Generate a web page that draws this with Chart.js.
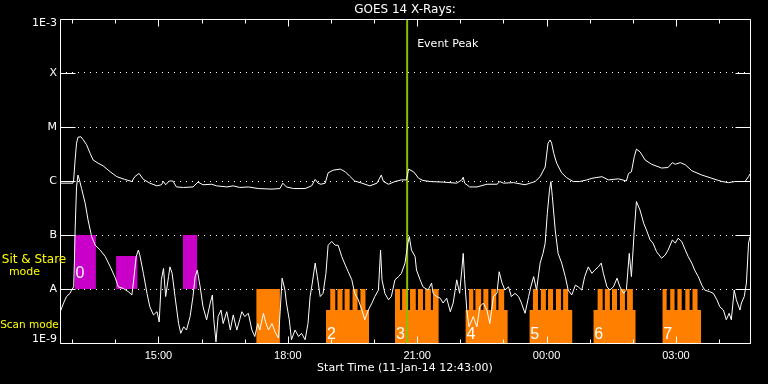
<!DOCTYPE html>
<html><head><meta charset="utf-8">
<script src="https://cdn.jsdelivr.net/npm/chart.js@4.4.1/dist/chart.umd.min.js"></script>
<style>html,body{margin:0;padding:0;background:#000;overflow:hidden}canvas{display:block}</style>
</head><body>
<canvas id="c" width="768" height="384"></canvas>
<script>
// Time: minutes after start 11-Jan-14 12:43:00 UT.  Flux: log10(W/m^2)
const longTime = [0,18,19,21,23,25,29,32,37,42,46,53,60,70,79,90,100,104,110,116,125,135,141,144,147,152,157,162,172,185,192,199,211,218,232,241,250,262,276,295,306,310,315,325,341,350,355,359,363,369,373,380,390,397,403,410,420,431,441,447,450,457,466,475,482,485,492,499,505,515,533,552,559,561,563,570,580,594,608,612,617,631,647,654,661,668,675,679,682,684,687,691,698,705,714,723,733,740,754,763,777,788,791,795,799,802,807,814,823,837,846,852,856,863,870,879,893,907,921,930,939,953,958,960];
const longLog = [-6.04,-6.04,-5.98,-5.61,-5.30,-5.19,-5.18,-5.23,-5.33,-5.49,-5.61,-5.67,-5.72,-5.83,-5.92,-5.97,-6.01,-5.92,-5.86,-5.97,-6.04,-6.09,-6.07,-6.01,-6.07,-6.00,-6.00,-6.11,-6.12,-6.11,-6.02,-6.07,-6.06,-6.09,-6.11,-6.09,-6.12,-6.11,-6.14,-6.15,-6.14,-6.04,-6.11,-6.14,-6.14,-6.09,-5.97,-6.04,-6.06,-6.04,-5.85,-5.80,-5.78,-5.83,-5.91,-6.00,-6.04,-6.09,-6.04,-5.89,-6.01,-6.06,-6.01,-5.98,-5.98,-5.78,-5.83,-5.95,-5.99,-6.01,-6.02,-6.04,-5.98,-5.93,-6.04,-6.11,-6.11,-6.06,-6.06,-6.01,-6.04,-6.03,-6.07,-6.04,-6.01,-5.92,-5.74,-5.30,-5.24,-5.30,-5.49,-5.67,-5.85,-5.94,-6.01,-6.01,-5.98,-5.95,-5.92,-5.98,-5.96,-6.00,-5.86,-5.83,-5.55,-5.41,-5.46,-5.61,-5.69,-5.76,-5.75,-5.66,-5.69,-5.66,-5.70,-5.81,-5.89,-5.95,-6.01,-6.03,-6.01,-6.01,-5.92,-5.87];

const shortTime = [0,5,9,14,16,19,20,21,23,25,27,30,35,39,44,49,56,63,70,77,81,88,95,100,102,106,109,111,116,121,125,130,135,138,141,144,147,151,153,156,160,165,168,172,176,181,185,188,191,195,199,204,209,212,214,217,220,224,227,232,237,241,246,250,253,257,262,267,271,275,278,283,286,290,295,299,304,307,309,313,315,319,322,327,332,336,341,345,348,351,355,358,362,366,370,373,378,383,387,392,397,401,406,410,415,420,424,429,434,438,443,446,448,452,457,461,466,471,475,480,484,486,489,494,496,501,505,512,517,519,524,529,533,538,543,547,552,556,559,561,563,566,569,575,580,584,589,594,598,603,608,611,615,619,624,628,633,638,642,647,652,655,659,663,668,672,675,678,681,683,685,689,693,698,703,707,712,717,721,726,730,735,740,744,749,753,756,761,765,770,775,779,784,788,792,795,799,802,807,812,816,821,825,830,837,842,846,852,856,860,865,870,874,879,883,888,893,897,904,909,914,918,923,927,931,934,938,941,946,948,952,955,958,960];
const shortLog = [-8.43,-8.26,-8.14,-8.08,-8.02,-7.96,-7.52,-6.91,-6.11,-5.89,-5.98,-6.14,-6.41,-6.72,-7.03,-7.19,-7.28,-7.40,-7.59,-7.80,-7.96,-7.99,-8.05,-8.11,-7.89,-7.40,-7.28,-7.37,-7.71,-8.08,-8.33,-8.48,-8.42,-8.61,-7.83,-7.62,-8.14,-7.77,-7.59,-7.71,-8.14,-8.64,-8.82,-8.70,-8.76,-8.51,-8.14,-7.77,-7.65,-7.96,-8.33,-8.57,-8.26,-8.11,-8.57,-8.98,-8.51,-8.39,-8.64,-8.42,-8.76,-8.48,-8.76,-8.57,-8.42,-8.51,-8.45,-8.76,-8.88,-8.64,-8.76,-8.45,-8.61,-8.76,-8.64,-8.79,-8.91,-8.26,-7.80,-8.02,-8.26,-8.57,-8.94,-8.76,-8.88,-8.82,-8.94,-8.64,-8.14,-7.89,-7.52,-7.77,-8.14,-8.08,-7.71,-7.19,-7.12,-7.19,-7.19,-7.40,-7.56,-7.68,-7.83,-8.08,-8.20,-8.39,-8.57,-8.39,-8.26,-8.14,-8.02,-7.28,-7.83,-8.08,-8.20,-8.14,-7.83,-7.77,-7.71,-7.52,-7.15,-7.03,-7.28,-7.40,-7.65,-7.83,-7.96,-8.02,-7.89,-8.08,-8.14,-8.17,-8.26,-8.17,-8.42,-8.26,-7.83,-8.08,-7.65,-7.34,-7.83,-8.39,-8.70,-8.51,-8.70,-8.33,-8.26,-8.39,-8.64,-8.14,-8.08,-7.68,-7.89,-8.02,-7.96,-8.14,-8.08,-8.14,-8.26,-8.45,-8.14,-7.96,-7.77,-8.02,-7.52,-7.34,-7.15,-6.60,-6.17,-6.01,-6.29,-6.91,-7.34,-7.52,-7.77,-8.02,-8.11,-7.93,-7.96,-8.02,-7.77,-7.59,-7.71,-7.65,-7.59,-7.52,-7.71,-7.96,-8.02,-7.96,-7.80,-7.96,-8.08,-8.02,-7.34,-7.77,-6.91,-6.38,-6.54,-6.78,-6.91,-7.09,-7.15,-7.31,-7.43,-7.37,-7.28,-7.09,-7.15,-7.06,-7.12,-7.28,-7.40,-7.52,-7.65,-7.77,-7.93,-8.02,-8.05,-8.08,-8.20,-8.33,-8.39,-8.57,-8.45,-8.57,-8.02,-8.20,-8.39,-8.26,-8.14,-7.89,-7.15,-7.03];

// axis ticks
const yTickLog = [-9,-8,-7,-6,-5,-4,-3];
const yTickLabels = ['1E-9','A','B','C','M','X','1E-3'];
const xHourTicks = [17,77,137,197,257,317,377,437,497,557,617,677,737,797,857,917];
const xMajorTicks = [137,317,497,677,857];
const xMajorLabels = ['15:00','18:00','21:00','00:00','03:00'];

// event
const eventPeakTime = 483;

// Sit & Stare (magenta) intervals
const sitStart = [20,78,171];
const sitEnd = [50,108,191];
const sitTopLog = [-7,-7.39,-7];
const sitBottomLog = -8;
const sitLabels = ['0','',''];

// Scan mode (orange)
const fullScanStart = [273];
const fullScanEnd = [306];
const fullScanTopLog = -8;
const scanStart = [370,466,564,653,742,838];
const scanEnd = [430,527,623,713,801,892];
const scanLabels = ['2','3','4','5','6','7'];
const scanTeethStart = [[376,386,396,407,418],[466,476,487,498,508,519],[569,578,589,600,610],[658,669,679,690,700],[748,758,768,779,789],[838,849,859,870,880]];
const scanTeethEnd = [[383,393,403,414,425],[473,484,495,505,516,527],[575,586,596,607,618],[665,676,686,697,707],[755,765,775,786,797],[844,855,865,876,887]];
const scanBaseLog = -8.39;
const scanTeethLog = -8;

const WHITE = '#ffffff', MAGENTA = '#c800c8', ORANGE = '#ff8000', GREEN = '#88c000', YELLOW = '#ffff00';

const toPts = (ts, ls) => ts.map((t, i) => ({x: t, y: Math.pow(10, ls[i])}));
const datasets = [];
datasets.push({label: 'Long', data: toPts(longTime, longLog), borderColor: WHITE, borderWidth: 1, fill: false, order: 0});
datasets.push({label: 'Short', data: toPts(shortTime, shortLog), borderColor: WHITE, borderWidth: 1, fill: false, order: 0});
datasets.push({label: 'Event Peak', data: [{x: eventPeakTime, y: 1e-9}, {x: eventPeakTime, y: 1e-3}], borderColor: GREEN, borderWidth: 2, fill: false, order: 1});
sitStart.forEach((s, i) => {
  const top = Math.pow(10, sitTopLog[i]);
  datasets.push({label: 'Sit & Stare', data: [{x: s, y: top}, {x: sitEnd[i], y: top}],
    fill: {value: Math.pow(10, sitBottomLog)}, backgroundColor: MAGENTA, borderColor: 'rgba(0,0,0,0)', borderWidth: 0, order: 5});
});
fullScanStart.forEach((s, i) => {
  const top = Math.pow(10, fullScanTopLog);
  datasets.push({label: 'Scan', data: [{x: s, y: top}, {x: fullScanEnd[i], y: top}],
    fill: 'start', backgroundColor: ORANGE, borderColor: 'rgba(0,0,0,0)', borderWidth: 0, order: 5});
});
scanStart.forEach((s, i) => {
  const lb = Math.pow(10, scanBaseLog), la = Math.pow(10, scanTeethLog);
  const pts = [{x: s, y: lb}];
  scanTeethStart[i].forEach((a, k) => { pts.push({x: a, y: la}); pts.push({x: scanTeethEnd[i][k], y: lb}); });
  pts.push({x: scanEnd[i], y: lb});
  datasets.push({label: 'Scan', data: pts, stepped: true, fill: 'start', backgroundColor: ORANGE,
    borderColor: 'rgba(0,0,0,0)', borderWidth: 0, order: 5});
});

const deco = {
  id: 'deco',
  beforeDraw(chart) {
    const ctx = chart.ctx;
    ctx.save(); ctx.fillStyle = '#000'; ctx.fillRect(0, 0, chart.width, chart.height); ctx.restore();
  },
  afterDraw(chart) {
    const {ctx, chartArea: a, scales: {x, y}} = chart;
    ctx.save();
    ctx.strokeStyle = WHITE; ctx.lineWidth = 1;
    const L = Math.round(a.left) + 0.5, R = Math.round(a.right) + 0.5, T = Math.round(a.top) + 0.5, B = Math.round(a.bottom) + 0.5;
    ctx.beginPath();
    ctx.moveTo(L, T); ctx.lineTo(R, T); ctx.lineTo(R, B); ctx.lineTo(L, B); ctx.closePath();
    xHourTicks.forEach(t => {
      const px = Math.round(x.getPixelForValue(t)) + 0.5;
      const len = xMajorTicks.includes(t) ? 7 : 4;
      ctx.moveTo(px, B); ctx.lineTo(px, B - len);
      ctx.moveTo(px, T); ctx.lineTo(px, T + len);
    });
    yTickLog.forEach(v => {
      const py = Math.round(y.getPixelForValue(Math.pow(10, v))) + 0.5;
      ctx.moveTo(L, py); ctx.lineTo(L + 15, py);
      ctx.moveTo(R - 15, py); ctx.lineTo(R, py);
    });
    ctx.stroke();

    ctx.fillStyle = WHITE;
    ctx.font = '11px "DejaVu Sans"';
    ctx.textBaseline = 'alphabetic';
    ctx.textAlign = 'left';
    ctx.fillText('Event Peak', x.getPixelForValue(eventPeakTime) + 10, a.top + 28);

    ctx.font = '16px "Liberation Sans"';
    sitStart.forEach((s, i) => {
      if (sitLabels[i]) ctx.fillText(sitLabels[i], x.getPixelForValue(s) + 1, y.getPixelForValue(Math.pow(10, sitBottomLog)) - 11);
    });
    scanStart.forEach((s, i) => {
      ctx.fillText(scanLabels[i], x.getPixelForValue(s) + 1, a.bottom - 4);
    });

    ctx.fillStyle = YELLOW;
    ctx.textAlign = 'center';
    ctx.font = '12px "DejaVu Sans"';
    ctx.fillText('Sit & Stare', 34, 263);
    ctx.font = '11px "DejaVu Sans"';
    ctx.fillText('mode', 24.5, 275);
    ctx.font = '10.5px "DejaVu Sans"';
    ctx.fillText('Scan mode', 29.5, 328);
    ctx.restore();
  }
};

new Chart(document.getElementById('c'), {
  type: 'line',
  data: {datasets},
  options: {
    responsive: false, animation: false, events: [], devicePixelRatio: 1,
    layout: {padding: {left: 0, right: 18, top: 0, bottom: 0}},
    elements: {point: {radius: 0}, line: {tension: 0}},
    plugins: {
      legend: {display: false}, tooltip: {enabled: false},
      title: {display: true, text: 'GOES 14 X-Rays:', color: WHITE, fullSize: false,
        font: {family: 'DejaVu Sans', size: 12, weight: 'normal'}, padding: {top: 2.5, bottom: 2.1}}
    },
    scales: {
      x: {
        type: 'linear', min: 0, max: 960,
        afterFit(s) { s.height = 41; },
        afterBuildTicks(s) { s.ticks = xHourTicks.map(v => ({value: v})); },
        grid: {display: false, drawTicks: false}, border: {display: false},
        ticks: {color: WHITE, font: {family: 'Liberation Sans', size: 11}, padding: 6, autoSkip: false, maxRotation: 0,
          callback: (v) => { const k = xMajorTicks.indexOf(v); return k >= 0 ? xMajorLabels[k] : ''; }},
        title: {display: true, text: 'Start Time (11-Jan-14 12:43:00)', color: WHITE,
          font: {family: 'DejaVu Sans', size: 11}, padding: {top: 0, bottom: 9}}
      },
      y: {
        type: 'logarithmic', min: 1e-9, max: 1e-3,
        afterFit(s) { s.width = 60; },
        afterBuildTicks(s) {
          const n = yTickLog.length;
          s.ticks = yTickLog.map((v, i) => ({value: Math.pow(10, v + (i === 0 ? 0.065 : (i === n - 1 ? -0.074 : 0)))}));
        },
        grid: {drawTicks: false, lineWidth: 1,
          color: (c) => (c.index === 0 || c.index === yTickLog.length - 1) ? 'rgba(0,0,0,0)' : WHITE},
        border: {display: false, dash: [1, 5]},
        ticks: {color: WHITE, font: {family: 'DejaVu Sans', size: 11}, padding: 3, autoSkip: false,
          callback: (v, i) => yTickLabels[i]}
      }
    }
  },
  plugins: [deco]
});
</script>
</body></html>
